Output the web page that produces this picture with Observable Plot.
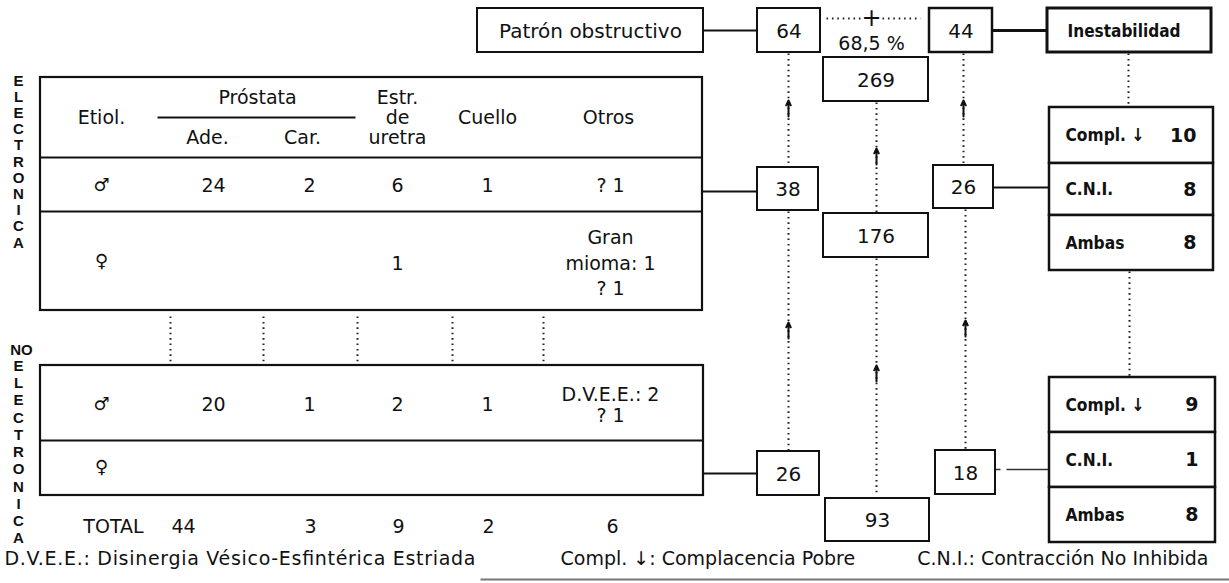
<!DOCTYPE html>
<html><head><meta charset="utf-8">
<script src="https://cdn.jsdelivr.net/npm/d3@7"></script>
<script src="https://cdn.jsdelivr.net/npm/@observablehq/plot@0.6"></script>
<style>
html,body{margin:0;padding:0;background:#fff;}
#chart svg{display:block;}
</style></head><body><div id="chart"></div>
<script>
// ---------------- DATA ----------------
const groupLabel = "Próstata";
const etiologyHeader = "Etiol.";
const etiologyColumns = ["Ade.", "Car.", "Estr.\nde\nuretra", "Cuello", "Otros"];
const sexes = ["♂", "♀"];
const electronicaMale = ["24", "2", "6", "1", "? 1"];
const electronicaFemale = ["", "", "1", "", "Gran\nmioma: 1\n? 1"];
const noElectronicaMale = ["20", "1", "2", "1", "D.V.E.E.: 2\n? 1"];
const noElectronicaFemale = ["", "", "", "", ""];
const totalLabel = "TOTAL";
const totals = ["44", "3", "9", "2", "6"];
const sideLabels = ["ELECTRONICA", "NO", "ELECTRONICA"];

const obstructiveLabel = "Patrón obstructivo";
const instabilityLabel = "Inestabilidad";
const topValues = ["64", "269", "44"];          // obstructivo, estudiados, inestabilidad
const percentLabel = "68,5 %";
const electronicaValues = ["38", "176", "26"];
const noElectronicaValues = ["26", "93", "18"];
const instabilityTypes = ["Compl. ↓", "C.N.I.", "Ambas"];
const electronicaInstability = ["10", "8", "8"];
const noElectronicaInstability = ["9", "1", "8"];
const footnotes = [
  "D.V.E.E.: Disinergia Vésico-Esfintérica Estriada",
  "Compl. ↓: Complacencia Pobre",
  "C.N.I.: Contracción No Inhibida"
];

// ---------------- LAYOUT ----------------
const W = 1229, H = 583;
const FONT = "DejaVu Sans";
const BOLD = "'DejaVu Sans', sans-serif";
const LETTERS = "'Liberation Sans', sans-serif";
const colX = [213, 309, 397, 487, 610];
const headX = [207, 302, 397, 487, 608];
const totalX = [183, 310, 398, 488, 612];
const sexX = 101;
const upper = {x1: 40, x2: 702, y1: 77, yHead: 157, ySep: 211, y2: 310};
const lower = {x1: 40, x2: 703, y1: 365, ySep: 440, y2: 495};
const rows = [
  {sex: sexes[0], values: electronicaMale, y: 185, lh: 1},
  {sex: sexes[1], values: electronicaFemale, y: 261, lh: 1.35},
  {sex: sexes[0], values: noElectronicaMale, y: 404, lh: 1.1},
  {sex: sexes[1], values: noElectronicaFemale, y: 467, lh: 1}
];
const betweenX = [170, 263, 357, 452, 543];

const boxes = [
  {t: obstructiveLabel, x1: 477, x2: 703, y1: 8, y2: 52, sw: 2},
  {t: topValues[0], x1: 757, x2: 820, y1: 8, y2: 52, sw: 2},
  {t: topValues[1], x1: 823, x2: 928, y1: 57, y2: 101, sw: 2},
  {t: topValues[2], x1: 929, x2: 992, y1: 8, y2: 52, sw: 2.5},
  {t: electronicaValues[0], x1: 757, x2: 818, y1: 167, y2: 210, sw: 2},
  {t: electronicaValues[1], x1: 823, x2: 928, y1: 213, y2: 257, sw: 2},
  {t: electronicaValues[2], x1: 933, x2: 993, y1: 165, y2: 208, sw: 2},
  {t: noElectronicaValues[0], x1: 757, x2: 819, y1: 451, y2: 495, sw: 2},
  {t: noElectronicaValues[1], x1: 825, x2: 929, y1: 498, y2: 541, sw: 2},
  {t: noElectronicaValues[2], x1: 935, x2: 995, y1: 450, y2: 494, sw: 2}
];
const instBox = {t: instabilityLabel, x1: 1047, x2: 1211, y1: 8, y2: 52};
const groups = [
  {labels: instabilityTypes, values: electronicaInstability, x1: 1049, x2: 1213, ys: [107, 163, 215, 270]},
  {labels: instabilityTypes, values: noElectronicaInstability, x1: 1049, x2: 1215, ys: [377, 432, 487, 542]}
];

const solid = [
  {x1: 703, y1: 30, x2: 757, y2: 30, sw: 2},
  {x1: 702, y1: 191, x2: 757, y2: 191, sw: 2},
  {x1: 703, y1: 473, x2: 757, y2: 473, sw: 2},
  {x1: 993, y1: 187, x2: 1049, y2: 187, sw: 2},
  {x1: 992, y1: 30, x2: 1047, y2: 30, sw: 3},
  {x1: 157, y1: 117, x2: 355, y2: 117, sw: 2}
];
const dashedConn = [{x1: 995, y1: 469, x2: 1049, y2: 469}];
const dotted = [
  {x1: 788, y1: 53, x2: 788, y2: 166},
  {x1: 788, y1: 211, x2: 788, y2: 450},
  {x1: 876, y1: 102, x2: 876, y2: 212},
  {x1: 876, y1: 258, x2: 876, y2: 494},
  {x1: 963, y1: 53, x2: 963, y2: 164},
  {x1: 965, y1: 209, x2: 965, y2: 449},
  {x1: 1128, y1: 53, x2: 1128, y2: 106},
  {x1: 1129, y1: 271, x2: 1129, y2: 376},
  {x1: 826, y1: 18, x2: 860, y2: 18},
  {x1: 882, y1: 18, x2: 920, y2: 18},
  ...betweenX.map(x => ({x1: x, y1: 316, x2: x, y2: 362}))
];
const arrows = [
  {x: 788, y: 108}, {x: 788, y: 330},
  {x: 876, y: 156}, {x: 876, y: 373},
  {x: 963, y: 108}, {x: 965, y: 328}
];

// ---------------- BUILD ----------------
const tableRects = [upper, lower].map(t => ({x1: t.x1, x2: t.x2, y1: t.y1, y2: t.y2}));
const tableLines = [
  {x1: upper.x1, x2: upper.x2, y: upper.yHead},
  {x1: upper.x1, x2: upper.x2, y: upper.ySep},
  {x1: lower.x1, x2: lower.x2, y: lower.ySep}
];
const headerTexts = [
  {x: 257, y: 97, t: groupLabel},
  {x: sexX, y: 117, t: etiologyHeader},
  ...etiologyColumns.map((c, i) => ({x: headX[i], y: i < 2 ? 137 : 117, t: c}))
];
const sexTexts = rows.map(r => ({x: sexX, y: r.y, t: r.sex}));
const totalTexts = [{x: 113, y: 526, t: totalLabel}, ...totals.map((v, i) => ({x: totalX[i], y: 526, t: v}))];

const groupRects = groups.flatMap(g => g.labels.map((l, i) => ({x1: g.x1, x2: g.x2, y1: g.ys[i], y2: g.ys[i + 1]})));
const groupLabels = groups.flatMap(g => g.labels.map((l, i) => ({x: g.x1 + 16, y: (g.ys[i] + g.ys[i + 1]) / 2, t: l})));
const groupValues = groups.flatMap(g => g.values.map((v, i) => ({x: g.x2 - 17, y: (g.ys[i] + g.ys[i + 1]) / 2, t: v})));

const letterSets = [
  {x: 18, y: 161, t: sideLabels[0].split("").join("\n"), lh: 1.08},
  {x: 21, y: 350, t: sideLabels[1], lh: 1},
  {x: 18, y: 451, t: sideLabels[2].split("").join("\n"), lh: 1.15}
];

const marks = [
  Plot.rect(tableRects, {x1: "x1", x2: "x2", y1: "y1", y2: "y2", fill: "none", stroke: "#111", strokeWidth: 2.2}),
  Plot.link(tableLines, {x1: "x1", x2: "x2", y1: "y", y2: "y", stroke: "#111", strokeWidth: 2}),
  Plot.link(solid, {x1: "x1", y1: "y1", x2: "x2", y2: "y2", stroke: "#111", strokeWidth: "sw"}),
  Plot.link(dashedConn, {x1: "x1", y1: "y1", x2: "x2", y2: "y2", stroke: "#333", strokeWidth: 1.5, strokeDasharray: "5,6,100"}),
  Plot.link(dotted, {x1: "x1", y1: "y1", x2: "x2", y2: "y2", stroke: "#222", strokeWidth: 2, strokeDasharray: "1.6,3.8"}),
  Plot.arrow(arrows, {x1: "x", y1: d => d.y + 8, x2: "x", y2: d => d.y - 8, stroke: "#111", strokeWidth: 2, headLength: 7, headAngle: 50}),
  Plot.rect(boxes, {x1: "x1", x2: "x2", y1: "y1", y2: "y2", fill: "white", stroke: "#111", strokeWidth: "sw"}),
  Plot.rect([instBox], {x1: "x1", x2: "x2", y1: "y1", y2: "y2", fill: "white", stroke: "#111", strokeWidth: 3}),
  Plot.rect(groupRects, {x1: "x1", x2: "x2", y1: "y1", y2: "y2", fill: "white", stroke: "#111", strokeWidth: 2.5}),
  Plot.text(boxes, {x: d => (d.x1 + d.x2) / 2, y: d => (d.y1 + d.y2) / 2 + 1, text: "t", fontSize: 20, fontFamily: FONT, fill: "#111"}),
  Plot.text([{x: 871, y: 18, t: "+"}], {x: "x", y: "y", text: "t", fontSize: 24, fontFamily: FONT, fill: "#111"}),
  Plot.text([{x: 871, y: 43, t: percentLabel}], {x: "x", y: "y", text: "t", fontSize: 19, fontFamily: FONT, fill: "#111"}),
  Plot.text([instBox], {x: 1067, y: d => (d.y1 + d.y2) / 2 + 1, text: "t", textAnchor: "start", fontSize: 18, fontWeight: "bold", fontFamily: BOLD, fill: "#111"}),
  Plot.text(groupLabels, {x: "x", y: "y", text: "t", textAnchor: "start", fontSize: 18, fontWeight: "bold", fontFamily: BOLD, fill: "#111"}),
  Plot.text(groupValues, {x: "x", y: "y", text: "t", textAnchor: "end", fontSize: 19, fontWeight: "bold", fontFamily: BOLD, fill: "#111"}),
  Plot.text(headerTexts, {x: "x", y: "y", text: "t", fontSize: 19, fontFamily: FONT, lineHeight: 1.05, fill: "#111"}),
  Plot.text(sexTexts, {x: "x", y: "y", text: "t", fontSize: 18, fontFamily: FONT, fill: "#111"}),
  ...rows.map(r => Plot.text(r.values.map((v, i) => ({x: colX[i], y: r.y, t: v})).filter(d => d.t), {x: "x", y: "y", text: "t", fontSize: 19, fontFamily: FONT, lineHeight: r.lh, fill: "#111"})),
  Plot.text(totalTexts, {x: "x", y: "y", text: "t", fontSize: 19, fontFamily: FONT, fill: "#111"}),
  ...letterSets.map(s => Plot.text([s], {x: "x", y: "y", text: "t", fontSize: 15, fontWeight: "bold", fontFamily: LETTERS, lineHeight: s.lh, fill: "#111"})),
  Plot.text([{x: 4, y: 558, t: footnotes[0]}], {x: "x", y: "y", text: "t", textAnchor: "start", fontSize: 19, fontFamily: FONT, fill: "#111"}),
  Plot.text([{x: 560, y: 558, t: footnotes[1]}], {x: "x", y: "y", text: "t", textAnchor: "start", fontSize: 19, fontFamily: FONT, fill: "#111"}),
  Plot.text([{x: 1208, y: 558, t: footnotes[2]}], {x: "x", y: "y", text: "t", textAnchor: "end", fontSize: 19, fontFamily: FONT, fill: "#111"}),
  Plot.link([{x1: 480, x2: 1229, y: 579}], {x1: "x1", x2: "x2", y1: "y", y2: "y", stroke: "#777", strokeWidth: 2})
];

const chart = Plot.plot({
  width: W, height: H,
  margin: 0,
  x: {domain: [0, W], range: [0, W], axis: null},
  y: {domain: [0, H], range: [0, H], axis: null},
  style: {background: "#fff", overflow: "visible"},
  marks
});
document.getElementById("chart").appendChild(chart);

// typographic adjustments after layout (match the narrow bold face and wide spacing of the original)
function fit(match, lengthFn, adjust) {
  d3.select(chart).selectAll("text").filter(function () { return match(this.textContent); }).each(function () {
    const w = this.getComputedTextLength();
    if (!w) return;
    this.setAttribute("textLength", lengthFn(w));
    this.setAttribute("lengthAdjust", adjust);
  });
}
fit(t => instabilityTypes.includes(t), w => w * 0.86, "spacingAndGlyphs");
fit(t => t === instabilityLabel, () => 113, "spacingAndGlyphs");
fit(t => t === footnotes[0], () => 471, "spacing");
</script>
</body></html>
